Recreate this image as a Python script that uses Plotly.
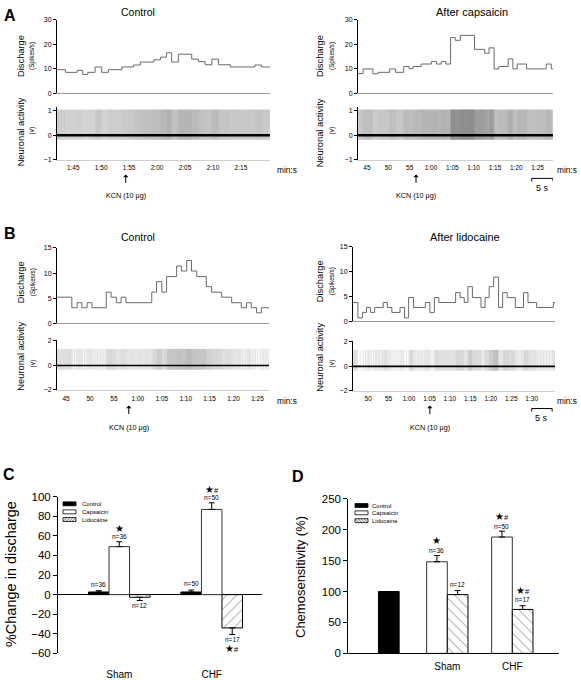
import plotly.graph_objects as go

W, H = 581, 680
FONT = "Liberation Sans, Arial, sans-serif"

# ---------------- data ----------------
# Panel A (Control): discharge histogram, bin edges (s) and rate (spikes/s)
a_ctrl_edges = [102.1, 103.6, 105.7, 106.7, 107.6, 108.9, 110.1, 111.3, 113.7, 115.8, 117.0, 119.4,
                120.6, 121.7, 122.6, 123.8, 126.2, 127.4, 128.6, 129.8, 131.0, 133.1, 137.5, 138.7, 140.2]
a_ctrl_rate = [9.6, 8.5, 9.3, 7.6, 8.5, 10.7, 8.5, 9.6, 10.7, 11.5, 12.7, 13.6, 14.7, 16.5, 12.7,
               15.9, 13.9, 12.9, 11.6, 13.9, 11.6, 10.7, 11.5, 10.7]
# Panel A (After capsaicin)
a_caps_edges = [42.9, 44.1, 46.4, 47.6, 50.3, 51.7, 53.6, 54.9, 55.8, 57.7, 60.1, 61.3, 62.4, 63.5,
                64.6, 65.7, 66.9, 70.2, 72.6, 73.6, 74.8, 75.9, 78.1, 79.2, 80.2, 82.4, 87.0, 88.2, 88.6]
a_caps_rate = [8.0, 9.9, 7.9, 8.5, 9.9, 8.5, 10.9, 10.0, 10.9, 11.9, 12.9, 11.9, 12.9, 11.9, 22.7,
               21.6, 23.6, 17.9, 16.3, 18.5, 9.9, 10.9, 14.0, 9.9, 11.9, 9.9, 11.9, 9.9]
# Panel B (Control)
b_ctrl_edges = [43.1, 46.2, 47.3, 48.3, 49.4, 50.4, 53.4, 54.4, 55.5, 56.5, 57.5, 62.9, 63.9, 65.0,
                66.0, 68.1, 69.1, 70.2, 71.2, 72.3, 74.3, 75.4, 77.5, 79.6, 81.6, 82.7, 83.7, 84.8, 85.8, 87.4]
b_ctrl_rate = [5.2, 3.1, 4.1, 3.1, 4.1, 3.1, 6.2, 5.2, 4.1, 5.2, 4.1, 6.2, 8.3, 6.2, 9.3, 11.4, 10.4,
               12.5, 10.4, 9.3, 7.3, 6.2, 5.2, 4.1, 3.1, 4.1, 3.1, 2.1, 3.1]
# Panel B (After lidocaine)
b_lido_edges = [46.3, 47.5, 48.6, 49.6, 50.6, 51.6, 53.7, 54.7, 55.8, 57.8, 58.9, 59.9, 61.1, 64.0,
                65.1, 66.2, 67.3, 71.4, 72.5, 73.5, 74.4, 75.5, 77.6, 78.6, 79.6, 80.7, 81.9, 82.9,
                84.0, 86.0, 88.0, 89.1, 91.2, 95.3, 95.7]
b_lido_rate = [3.8, 0.7, 1.8, 2.8, 1.8, 2.8, 3.8, 2.8, 1.8, 2.8, 0.7, 4.8, 2.8, 3.8, 1.8, 4.8, 3.8,
               5.8, 4.8, 3.8, 7.0, 4.8, 2.8, 4.8, 7.0, 8.9, 2.8, 5.8, 4.8, 2.8, 5.8, 3.8, 2.8, 3.8]

# spike trough / peak of the raw neuronal recordings (V)
a_spike_range = [-0.18, 1.05]
b_spike_range = [-0.35, 1.35]

# KCN injection times (s)
a_ctrl_kcn = 114.4
a_caps_kcn = 56.5
b_ctrl_kcn = 58.1
b_lido_kcn = 65.1

# time tick labels
a_ctrl_ticks = [105, 110, 115, 120, 125, 130, 135]
a_ctrl_ticktext = ["1:45", "1:50", "1:55", "2:00", "2:05", "2:10", "2:15"]
a_caps_ticks = [45, 50, 55, 60, 65, 70, 75, 80, 85]
a_caps_ticktext = ["45", "50", "55", "1:00", "1:05", "1:10", "1:15", "1:20", "1:25"]
b_ctrl_ticks = [45, 50, 55, 60, 65, 70, 75, 80, 85]
b_ctrl_ticktext = ["45", "50", "55", "1:00", "1:05", "1:10", "1:15", "1:20", "1:25"]
b_lido_ticks = [50, 55, 60, 65, 70, 75, 80, 85, 90]
b_lido_ticktext = ["50", "55", "1:00", "1:05", "1:10", "1:15", "1:20", "1:25", "1:30"]

# Panel C: % change in discharge
groups = ["Sham", "CHF"]
c_control = [2.7, 2.7]
c_control_err = [1.3, 2.0]
c_caps = [49, 87]
c_caps_err = [5, 6.7]
c_lido = [-2.7, -34]
c_lido_err = [3.3, 6.7]
c_n_control = ["n=36", "n=50"]
c_n_caps = ["n=36", "n=50"]
c_n_lido = ["n=12", "n=17"]
c_sig_caps = ["*", "*#"]
c_sig_lido = ["", "*#"]

# Panel D: chemosensitivity (%)
d_control = [100]
d_caps = [148, 188]
d_caps_err = [10, 9.5]
d_lido = [95, 71]
d_lido_err = [6.5, 6]
d_n_caps = ["n=36", "n=50"]
d_n_lido = ["n=12", "n=17"]
d_sig_caps = ["*", "*#"]
d_sig_lido = ["", "*#"]

legend_labels = ["Control", "Capsaicin", "Lidocaine"]


# ---------------- helpers ----------------
def PX(p):
    return p / W


def PY(p):
    return 1 - p / H


def xdom(a, b):
    return [a / W, b / W]


def ydom(top, bottom):
    return [1 - bottom / H, 1 - top / H]


def spikes(edges, rates, amp):
    xs, ys = [], []
    for i, r in enumerate(rates):
        t0, t1 = edges[i], edges[i + 1]
        n = max(1, round(r * (t1 - t0)))
        for k in range(n):
            t = t0 + (k + 0.5) * (t1 - t0) / n
            xs += [t, t, None]
            ys += [amp[0], amp[1], None]
    return xs, ys


annotations = []
shapes = []


def ann(text, x, y, size, xref="paper", yref="paper", **kw):
    d = dict(text=text, x=x, y=y, xref=xref, yref=yref, showarrow=False,
             font=dict(size=size, family=FONT, color="black"),
             xanchor=kw.pop("xanchor", "center"), yanchor=kw.pop("yanchor", "middle"))
    d.update(kw)
    annotations.append(d)


fig = go.Figure()
layout = dict(width=W, height=H, margin=dict(l=0, r=0, t=0, b=0),
              paper_bgcolor="white", plot_bgcolor="white", showlegend=False,
              barmode="overlay", font=dict(family=FONT, color="black"))

# ---------------- recordings (A, B) ----------------
panels = [
    dict(edges=a_ctrl_edges, rate=a_ctrl_rate, ticks=a_ctrl_ticks, ticktext=a_ctrl_ticktext,
         xpx=(57, 270), disc=(14, 89), drange=[0, 30], dticks=[0, 10, 20, 30],
         neur=(103.25, 157), nrange=[-1, 1.15], nticks=[-1, 0, 1], amp=a_spike_range,
         lpad=1, kcn=a_ctrl_kcn, ky=(172, 193), base=2.6),
    dict(edges=a_caps_edges, rate=a_caps_rate, ticks=a_caps_ticks, ticktext=a_caps_ticktext,
         xpx=(358, 553), disc=(14, 89), drange=[0, 30], dticks=[0, 10, 20, 30],
         neur=(103.25, 157), nrange=[-1, 1.15], nticks=[-1, 0, 1], amp=a_spike_range,
         lpad=1, kcn=a_caps_kcn, ky=(172, 193), base=2.6),
    dict(edges=b_ctrl_edges, rate=b_ctrl_rate, ticks=b_ctrl_ticks, ticktext=b_ctrl_ticktext,
         xpx=(57, 269), disc=(247, 324), drange=[0, 15], dticks=[0, 5, 10, 15],
         neur=(340.75, 392), nrange=[-2, 2.1], nticks=[-2, 0, 2], amp=b_spike_range,
         lpad=2, kcn=b_ctrl_kcn, ky=(408, 430), base=1.6),
    dict(edges=b_lido_edges, rate=b_lido_rate, ticks=b_lido_ticks, ticktext=b_lido_ticktext,
         xpx=(353, 555), disc=(246, 322), drange=[0, 15], dticks=[0, 5, 10, 15],
         neur=(341.75, 393), nrange=[-2, 2.1], nticks=[-2, 0, 2], amp=b_spike_range,
         lpad=1, kcn=b_lido_kcn, ky=(408, 430), base=1.6),
]

for i, p in enumerate(panels):
    da = 2 * i + 1   # discharge axes index
    na = 2 * i + 2   # neuronal axes index
    xr = [p["edges"][0], p["edges"][-1]]
    # discharge step trace
    fig.add_trace(go.Scatter(x=p["edges"], y=p["rate"] + [p["rate"][-1]], mode="lines",
                             line=dict(color="#6a6a6a", width=1, shape="hv"),
                             xaxis=f"x{da}", yaxis=f"y{da}", hoverinfo="skip"))
    # neuronal spikes
    sx, sy = spikes(p["edges"], p["rate"], p["amp"])
    fig.add_trace(go.Scatter(x=sx, y=sy, mode="lines",
                             line=dict(color="rgba(100,100,100,0.3)", width=0.7),
                             xaxis=f"x{na}", yaxis=f"y{na}", hoverinfo="skip"))
    fig.add_trace(go.Scatter(x=xr, y=[0, 0], mode="lines",
                             line=dict(color="black", width=p["base"]),
                             xaxis=f"x{na}", yaxis=f"y{na}", hoverinfo="skip"))
    dom = xdom(*p["xpx"])
    layout[f"xaxis{da}"] = dict(domain=dom, range=xr, anchor=f"y{da}", showline=True,
                                linecolor="#9a9a9a", linewidth=1, showticklabels=False,
                                ticks="", showgrid=False, zeroline=False)
    layout[f"yaxis{da}"] = dict(domain=ydom(*p["disc"]), range=p["drange"], anchor=f"x{da}",
                                showline=True, linecolor="black", linewidth=1, ticks="outside",
                                ticklen=3, tickwidth=1, tickcolor="black", tickvals=p["dticks"],
                                tickfont=dict(size=7, color="black"), showgrid=False, zeroline=False)
    layout[f"xaxis{na}"] = dict(domain=dom, range=xr, anchor=f"y{na}", showline=True,
                                linecolor="#d0d0d0", linewidth=1, ticks="outside",
                                ticklen=p["lpad"], tickcolor="rgba(0,0,0,0)",
                                tickvals=p["ticks"], ticktext=p["ticktext"],
                                tickfont=dict(size=6.5, color="black"), showgrid=False, zeroline=False)
    layout[f"yaxis{na}"] = dict(domain=ydom(*p["neur"]), range=p["nrange"], anchor=f"x{na}",
                                showline=True, linecolor="black", linewidth=1, ticks="outside",
                                ticklen=3, tickwidth=1, tickcolor="black", tickvals=p["nticks"],
                                tickfont=dict(size=7, color="black"), showgrid=False, zeroline=False)
    # KCN arrow + label (placed at injection time)
    annotations.append(dict(text="", x=p["kcn"], y=PY(p["ky"][0]), xref=f"x{na}", yref="paper",
                            showarrow=True, ax=0, ay=10, arrowhead=1, arrowsize=0.9,
                            arrowwidth=1, arrowcolor="black"))
    ann("KCN (10 μg)", p["kcn"], PY(p["ky"][1]), 7.2, xref=f"x{na}")

# axis titles for recording panels
for (xd, xs_, yd, yn) in [(21, 32, 51, 129), (320, 332, 51, 129)]:
    ann("Discharge", PX(xd), PY(yd), 9.3, textangle=-90)
    ann("(Spikes/s)", PX(xs_), PY(yd), 6.3, textangle=-90)
    ann("Neuronal activity", PX(xd), PY(yn), 9.3, textangle=-90)
    ann("(v)", PX(xs_), PY(yn - 2), 6.5, textangle=-90)
for (xd, xs_, yd, yn) in [(21, 33, 282, 358), (320, 332, 281, 358)]:
    ann("Discharge", PX(xd), PY(yd), 9.3, textangle=-90)
    ann("(Spikes/s)", PX(xs_), PY(yd), 6.3, textangle=-90)
    ann("Neuronal activity", PX(xd), PY(yn), 9.3, textangle=-90)
    ann("(v)", PX(xs_), PY(yn + 7), 6.5, textangle=-90)

# panel titles / letters
ann("<b>A</b>", PX(10), PY(10), 16)
ann("<b>B</b>", PX(10), PY(232), 16)
ann("<b>C</b>", PX(9), PY(478), 16)
ann("<b>D</b>", PX(298), PY(480), 16)
ann("Control", PX(138), PY(6), 10.5)
ann("After capsaicin", PX(472), PY(6), 11)
ann("Control", PX(138), PY(236), 10.5)
ann("After lidocaine", PX(465), PY(236), 11)
for (x, y) in [(287, 167), (567, 167), (287, 403), (567, 403)]:
    ann("min:s", PX(x), PY(y), 8.3)

# 5 s scale bars (in axis time units)
for (xa, t0, ybar, ytext) in [("x4", 83.6, 176, 185.5), ("x8", 90.0, 411, 420.5)]:
    shapes.append(dict(type="path", xref=xa, yref="paper", line=dict(color="black", width=1),
                       path=f"M {t0},{PY(ybar + 3)} L {t0},{PY(ybar)} L {t0 + 5},{PY(ybar)} L {t0 + 5},{PY(ybar + 3)}"))
    ann("5 s", t0 + 2.5, PY(ytext), 9, xref=xa)

# ---------------- Panel C ----------------
c_bw = 0.222
cx = list(range(len(groups)))
err_style = dict(color="black", thickness=1, width=3)
fig.add_trace(go.Bar(x=[i - c_bw for i in cx], y=c_control, width=c_bw, xaxis="x9", yaxis="y9",
                     marker=dict(color="black", line=dict(color="black", width=1)),
                     error_y=dict(type="data", array=c_control_err, arrayminus=[0] * 2,
                                  symmetric=False, **err_style)))
fig.add_trace(go.Bar(x=cx, y=c_caps, width=c_bw, xaxis="x9", yaxis="y9",
                     marker=dict(color="white", line=dict(color="#333", width=1)),
                     error_y=dict(type="data", array=c_caps_err, arrayminus=[0] * 2,
                                  symmetric=False, **err_style)))
fig.add_trace(go.Bar(x=[i + c_bw for i in cx], y=c_lido, width=c_bw, xaxis="x9", yaxis="y9",
                     marker=dict(color="white", line=dict(color="black", width=1),
                                 pattern=dict(shape="/", fgcolor="black", bgcolor="white",
                                              size=7, solidity=0.12)),
                     error_y=dict(type="data", array=[0] * 2, arrayminus=c_lido_err,
                                  symmetric=False, **err_style)))
layout["xaxis9"] = dict(domain=xdom(58, 261.7), range=[-0.663, 1.541], anchor="y9",
                        tickvals=cx, ticktext=groups, ticks="outside", ticklen=12,
                        tickcolor="rgba(0,0,0,0)", showline=False, zeroline=False,
                        showgrid=False, tickfont=dict(size=10, color="black"))
layout["yaxis9"] = dict(domain=ydom(501, 661), range=[-60, 100], anchor="x9",
                        tickvals=list(range(-60, 101, 20)), ticks="outside", ticklen=4,
                        tickcolor="black", showline=True, linecolor="black", linewidth=1,
                        zeroline=True, zerolinecolor="black", zerolinewidth=1.3,
                        showgrid=False, tickfont=dict(size=11.5, color="black"))
ann("%Change in discharge", PX(11), PY(580), 14.5, textangle=-90)


def sig_html(s):
    if s == "*":
        return "★"
    if s == "*#":
        return "★<span style='font-size:7.5px'>#</span>"
    return ""


for i in cx:
    ann(c_n_control[i], i - c_bw, c_control[i] + c_control_err[i], 6.5, xref="x9", yref="y9", yshift=6.5)
    ann(c_n_caps[i], i, c_caps[i] + c_caps_err[i], 6.5, xref="x9", yref="y9", yshift=5)
    ann(sig_html(c_sig_caps[i]), i, c_caps[i] + c_caps_err[i], 10, xref="x9", yref="y9", yshift=13.5)
    ann(c_n_lido[i], i + c_bw, c_lido[i] - c_lido_err[i], 6.5, xref="x9", yref="y9", yshift=-5)
    if c_sig_lido[i]:
        ann(sig_html(c_sig_lido[i]), i + c_bw, c_lido[i] - c_lido_err[i], 10, xref="x9", yref="y9", yshift=-14)

# ---------------- Panel D ----------------
d_bw = 0.318
d_control_pos = -0.9
fig.add_trace(go.Bar(x=[d_control_pos], y=d_control, width=d_bw, xaxis="x10", yaxis="y10",
                     marker=dict(color="black", line=dict(color="black", width=1))))
fig.add_trace(go.Bar(x=[i - d_bw / 2 for i in cx], y=d_caps, width=d_bw, xaxis="x10", yaxis="y10",
                     marker=dict(color="white", line=dict(color="#333", width=1)),
                     error_y=dict(type="data", array=d_caps_err, arrayminus=[0] * 2,
                                  symmetric=False, **err_style)))
fig.add_trace(go.Bar(x=[i + d_bw / 2 for i in cx], y=d_lido, width=d_bw, xaxis="x10", yaxis="y10",
                     marker=dict(color="white", line=dict(color="black", width=1),
                                 pattern=dict(shape="\\", fgcolor="black", bgcolor="white",
                                              size=7, solidity=0.12)),
                     error_y=dict(type="data", array=d_lido_err, arrayminus=[0] * 2,
                                  symmetric=False, **err_style)))
layout["xaxis10"] = dict(domain=xdom(348.3, 559.3), range=[-1.523, 1.723], anchor="y10",
                         tickvals=cx, ticktext=groups, ticks="outside", ticklen=3,
                         tickcolor="rgba(0,0,0,0)", showline=True,
                         linecolor="black", linewidth=1.3, zeroline=False, showgrid=False,
                         tickfont=dict(size=10, color="black"))
layout["yaxis10"] = dict(domain=ydom(503, 661), range=[0, 250], anchor="x10",
                         tickvals=list(range(0, 251, 50)), ticks="outside", ticklen=4,
                         tickcolor="black", showline=True, linecolor="black", linewidth=1,
                         zeroline=False, showgrid=False, tickfont=dict(size=11.5, color="black"))
ann("Chemosensitivity (%)", PX(301), PY(583), 13, textangle=-90)
for i in cx:
    ann(d_n_caps[i], i - d_bw / 2, d_caps[i] + d_caps_err[i], 6.5, xref="x10", yref="y10", yshift=5)
    ann(sig_html(d_sig_caps[i]), i - d_bw / 2, d_caps[i] + d_caps_err[i], 10, xref="x10", yref="y10", yshift=15)
    ann(d_n_lido[i], i + d_bw / 2, d_lido[i] + d_lido_err[i], 6.5, xref="x10", yref="y10", yshift=6)
    if d_sig_lido[i]:
        ann(sig_html(d_sig_lido[i]), i + d_bw / 2, d_lido[i] + d_lido_err[i], 10, xref="x10", yref="y10", yshift=15.5)

# ---------------- legends (C and D) ----------------
for (sx0, tx, rows, hatch) in [(63, 80, (508.3, 516.5, 524.3), "/"), (355, 370, (510, 517.5, 525.5), "\\")]:
    sx1 = sx0 + 13
    for k, (lab, yc) in enumerate(zip(legend_labels, rows)):
        fill = "black" if k == 0 else "white"
        shapes.append(dict(type="rect", xref="paper", yref="paper", x0=PX(sx0), x1=PX(sx1),
                           y0=PY(yc + 2), y1=PY(yc - 2), fillcolor=fill,
                           line=dict(color="black", width=0.8)))
        if k == 2:
            segs = []
            for j in range(0, 13, 3):
                if hatch == "/":
                    segs.append(f"M {PX(sx0 + j)},{PY(yc + 2)} L {PX(min(sx0 + j + 4, sx1))},{PY(yc + 2 - min(4, sx1 - sx0 - j))}")
                else:
                    segs.append(f"M {PX(sx0 + j)},{PY(yc - 2)} L {PX(min(sx0 + j + 4, sx1))},{PY(yc - 2 + min(4, sx1 - sx0 - j))}")
            shapes.append(dict(type="path", xref="paper", yref="paper", path=" ".join(segs),
                               line=dict(color="black", width=0.6)))
        ann(lab, PX(tx), PY(yc), 6, xanchor="left")

layout["annotations"] = annotations
layout["shapes"] = shapes
fig.update_layout(**layout)
fig.write_html("out.html", config={"displayModeBar": False},
               post_script="document.body.style.margin='0px';")
